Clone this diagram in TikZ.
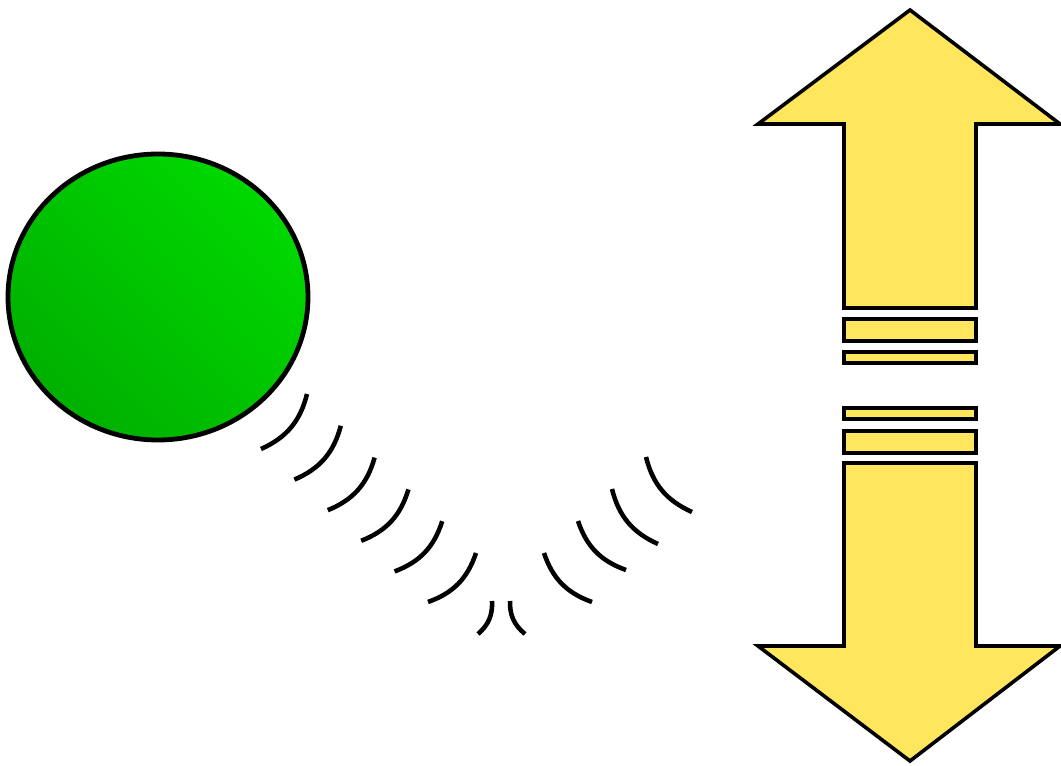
\documentclass[tikz,border=0pt]{standalone}
\usetikzlibrary{calc}
\begin{document}
\begin{tikzpicture}[x=0.75pt,y=-0.75pt,
  arcline/.style={line width=3.4pt},
  yelshape/.style={draw=black,line width=2.7pt,fill=yel,line join=miter}]
\definecolor{yel}{RGB}{255,230,92}
\definecolor{gdark}{RGB}{0,176,0}
\definecolor{glight}{RGB}{0,216,0}
\useasboundingbox (0,0) rectangle (1061,766);
% ball
\shade[left color=glight,right color=gdark,shading angle=-45] (158,297) ellipse [x radius=150,y radius=143];
\draw[line width=3.6pt] (158,297) ellipse [x radius=150,y radius=143];
% up arrow
\draw[yelshape] (910,10) -- (1060,124) -- (976,124) -- (976,308) -- (844,308) -- (844,124) -- (758,124) -- cycle;
\draw[yelshape] (844,319) rectangle (976,341);
\draw[yelshape] (844,352) rectangle (976,363);
% down arrow
\draw[yelshape] (844,408) rectangle (976,419);
\draw[yelshape] (844,431) rectangle (976,453);
\draw[yelshape] (910,761) -- (1060,646) -- (976,646) -- (976,463) -- (844,463) -- (844,646) -- (758,646) -- cycle;
% left arcs
\foreach \i in {0,...,5}{
  \draw[arcline] ($(307,394)+\i*(33.8,31.8)$) to[bend left=26] ($(261,449)+\i*(33.4,30.6)$);
}
\draw[arcline] (492,601) to[bend left=26] (478,634);
\draw[arcline] (510,601) to[bend right=26] (525,634);
% right arcs
\draw[arcline] (646,457) to[bend right=26] (692,512);
\draw[arcline] (612,489) to[bend right=26] (658,544);
\draw[arcline] (578,521) to[bend right=26] (626,570);
\draw[arcline] (544,553) to[bend right=26] (592,602);
\end{tikzpicture}
\end{document}
